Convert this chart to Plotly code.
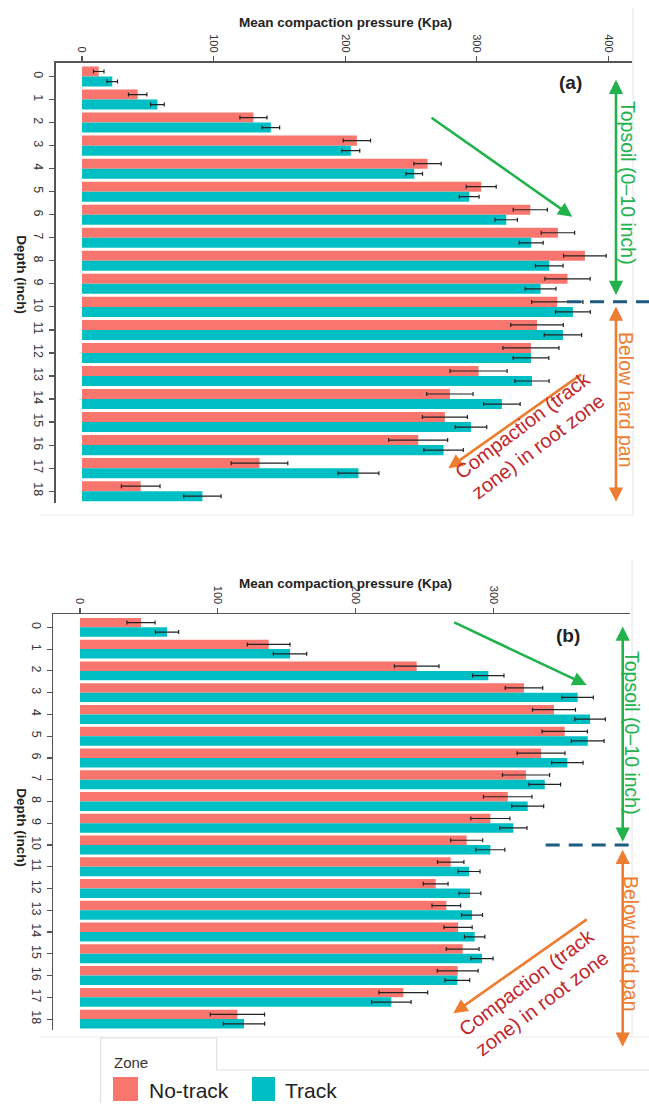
import plotly.graph_objects as go

W, H = 649, 1108

depths = list(range(19))
depth_labels = [str(d) for d in depths]
x_ticks_a = [0, 100, 200, 300, 400]
x_ticks_b = [0, 100, 200, 300]

# Panel (a)
a_notrack = [12.7, 42.3, 130.3, 208.9, 262.6, 303.4, 340.7, 361.7, 382.2, 369.0,
             361.2, 345.8, 341.2, 301.4, 279.6, 275.8, 255.5, 134.9, 44.6]
a_notrack_err = [4, 7, 10.3, 10.4, 10.4, 11.4, 13, 12.7, 16.2, 17.2,
                 19.5, 20, 21.3, 21.7, 17.6, 17.1, 22.4, 21.5, 14.7]
a_track = [23, 57.3, 143.5, 204.3, 252.5, 294.3, 322.4, 341.4, 355.1, 348.5,
           373.1, 365.5, 341.2, 342.0, 319.1, 295.6, 274.8, 210.1, 91.5]
a_track_err = [4, 5.2, 6.7, 6.8, 6.3, 7.5, 8.5, 9.1, 10.5, 11.7,
               13.2, 14.2, 13.6, 13, 13.9, 12, 15, 15.5, 14.2]

# Panel (b)
b_notrack = [44.3, 137.0, 244.5, 322.4, 344.2, 352.0, 334.8, 323.9, 310.6, 298.0,
             280.8, 269.2, 258.3, 266.0, 274.5, 277.9, 274.3, 234.8, 114.3]
b_notrack_err = [10.2, 15.5, 16.2, 13.6, 15.6, 16.5, 17.4, 17.1, 17.6, 14.2,
                 11.6, 9.6, 9, 10.4, 10.3, 11.9, 14.8, 17.7, 19.7]
b_track = [63.2, 152.5, 296.5, 361.4, 370.4, 368.7, 353.9, 337.5, 325.1, 314.7,
           298.0, 282.5, 283.2, 284.7, 286.6, 291.9, 274.0, 226.1, 119.1]
b_track_err = [8.4, 12.1, 11.4, 11.4, 11.1, 11.9, 11.4, 11.5, 11.6, 9.9,
               10.5, 8, 7.9, 7.6, 7.4, 8.1, 9, 14.3, 15]

zones = ["No-track", "Track"]
RED, TEAL = "#F8766D", "#00BFC4"
GREEN, ORANGE, DARKRED, DASH = "#22b24c", "#ed7d31", "#c0272d", "#1f5a80"
FONT = "Liberation Sans"


def px(x):
    return x / W


def py(y):
    return 1 - y / H


fig = go.Figure()


def add_bars(vals, errs, name, color, xa, ya):
    fig.add_trace(go.Bar(
        y=depths, x=vals, orientation="h", name=name,
        marker=dict(color=color, line=dict(width=0)),
        error_x=dict(type="data", array=errs, color="#222222", thickness=1.2, width=2),
        xaxis=xa, yaxis=ya, showlegend=False,
    ))


add_bars(a_notrack, a_notrack_err, zones[0], RED, "x", "y")
add_bars(a_track, a_track_err, zones[1], TEAL, "x", "y")
add_bars(b_notrack, b_notrack_err, zones[0], RED, "x2", "y2")
add_bars(b_track, b_track_err, zones[1], TEAL, "x2", "y2")

axis_common = dict(
    showgrid=False, zeroline=False, showline=True, linecolor="#555555", linewidth=1.3,
    ticks="outside", ticklen=5, tickcolor="#555555", tickwidth=1.2, tickangle=90,
    automargin=False,
)

fig.update_layout(
    width=W, height=H, margin=dict(l=0, r=0, t=0, b=0, autoexpand=False),
    paper_bgcolor="white", plot_bgcolor="white",
    barmode="group", bargap=0.13, bargroupgap=0,
    font=dict(family=FONT, color="#333333"),
    xaxis=dict(domain=[px(55.7), px(632)], anchor="y", side="top", range=[-20, 418],
               tickvals=x_ticks_a, ticktext=[str(v) for v in x_ticks_a],
               tickfont=dict(size=11, color="#333333"), **axis_common),
    yaxis=dict(domain=[py(502.7), py(62.7)], anchor="x", range=[18.5, -0.6],
               tickvals=depths, ticktext=depth_labels,
               tickfont=dict(size=12.5, color="#333333"), **axis_common),
    xaxis2=dict(domain=[px(53.3), px(630)], anchor="y2", side="top", range=[-19.4, 399.4],
                tickvals=x_ticks_b, ticktext=[str(v) for v in x_ticks_b],
                tickfont=dict(size=11, color="#333333"), **axis_common),
    yaxis2=dict(domain=[py(1030), py(614.3)], anchor="x2", range=[18.5, -0.6],
                tickvals=depths, ticktext=depth_labels,
                tickfont=dict(size=12.5, color="#333333"), **axis_common),
)

ann = []
shapes = []


def text(x, y, t, size, color="#222222", angle=0, xanchor="center"):
    ann.append(dict(x=px(x), y=py(y), xref="paper", yref="paper", text=t, showarrow=False,
                    font=dict(size=size, color=color, family=FONT), textangle=angle,
                    xanchor=xanchor, yanchor="middle", borderpad=0))


def arrow(tail, head, color, both=False):
    ann.append(dict(x=px(head[0]), y=py(head[1]), xref="paper", yref="paper",
                    ax=tail[0] - head[0], ay=tail[1] - head[1], axref="pixel", ayref="pixel",
                    text="", showarrow=True, arrowhead=2, arrowsize=1.1, arrowwidth=2.6,
                    arrowcolor=color, standoff=0, startstandoff=0,
                    arrowside="end+start" if both else "end", startarrowhead=2,
                    startarrowsize=1.1))


def hline(x0, x1, y, color, width, dash=None):
    shapes.append(dict(type="line", xref="paper", yref="paper", x0=px(x0), x1=px(x1),
                       y0=py(y), y1=py(y), line=dict(color=color, width=width, dash=dash)))


def vline(x, y0, y1, color, width):
    shapes.append(dict(type="line", xref="paper", yref="paper", x0=px(x), x1=px(x),
                       y0=py(y0), y1=py(y1), line=dict(color=color, width=width)))


# Titles
text(345, 23, "<b>Mean compaction pressure (Kpa)</b>", 13.5)
text(345, 583, "<b>Mean compaction pressure (Kpa)</b>", 13.5)
text(21.7, 275, "<b>Depth (inch)</b>", 13.5, angle=90)
text(21.7, 828, "<b>Depth (inch)</b>", 13.5, angle=90)

comp_text = "Compaction (track<br>zone) in root zone"

# Panel (a) annotations
text(570, 83, "<b>(a)</b>", 19)
arrow((430, 116.7), (572.3, 216.7), GREEN)
arrow((616, 78.3), (616, 295), GREEN, both=True)
arrow((616, 305), (616, 501.7), ORANGE, both=True)
arrow((582.7, 373.3), (448.3, 468.3), ORANGE)
hline(567, 649, 301.7, DASH, 3, "14px,9px")
text(628, 183, "Topsoil (0–10 inch)", 19.5, GREEN, 90)
text(626, 400, "Below hard pan", 19.5, ORANGE, 90)
text(530, 436, comp_text, 20, DARKRED, -37)

# Panel (b) annotations
text(568, 635, "<b>(b)</b>", 19)
arrow((452.7, 621.7), (586.7, 685), GREEN)
arrow((622.7, 625), (622.7, 841.7), GREEN, both=True)
arrow((622.7, 848.3), (622.7, 1046.7), ORANGE, both=True)
arrow((588.3, 918.3), (453.3, 1013.3), ORANGE)
hline(545.7, 632, 845, DASH, 3, "14px,9px")
text(632, 733, "Topsoil (0–10 inch)", 19.5, GREEN, 90)
text(631, 944, "Below hard pan", 19.5, ORANGE, 90)
text(534, 993, comp_text, 20, DARKRED, -37)

# faint screenshot frames
vline(633, 8, 515, "#e4e4e4", 1)
hline(40, 633, 515, "#ececec", 1)
vline(632, 560, 1037, "#e4e4e4", 1)
hline(40, 649, 1037, "#ececec", 1)

# Legend (manual)
shapes.append(dict(type="path", xref="paper", yref="paper",
                   path=f"M {px(100.7)},{py(1103)} L {px(100.7)},{py(1038)} L {px(216.7)},{py(1038)} "
                        f"L {px(216.7)},{py(1070)} L {px(649)},{py(1070)}",
                   line=dict(color="#dddddd", width=1)))
text(113, 1062, "Zone", 15, "#333333", xanchor="left")
shapes.append(dict(type="rect", xref="paper", yref="paper", x0=px(113), x1=px(138),
                   y0=py(1101), y1=py(1077), fillcolor=RED, line=dict(width=0)))
text(148, 1090, zones[0], 21, "#222222", xanchor="left")
shapes.append(dict(type="rect", xref="paper", yref="paper", x0=px(252), x1=px(275),
                   y0=py(1101), y1=py(1077), fillcolor=TEAL, line=dict(width=0)))
text(284, 1090, zones[1], 21, "#222222", xanchor="left")

fig.update_layout(annotations=ann, shapes=shapes, hovermode=False)

fig.write_html(
    "out.html",
    config={"displayModeBar": False, "staticPlot": True},
    post_script="document.body.style.margin='0';document.body.style.overflow='hidden';",
)
